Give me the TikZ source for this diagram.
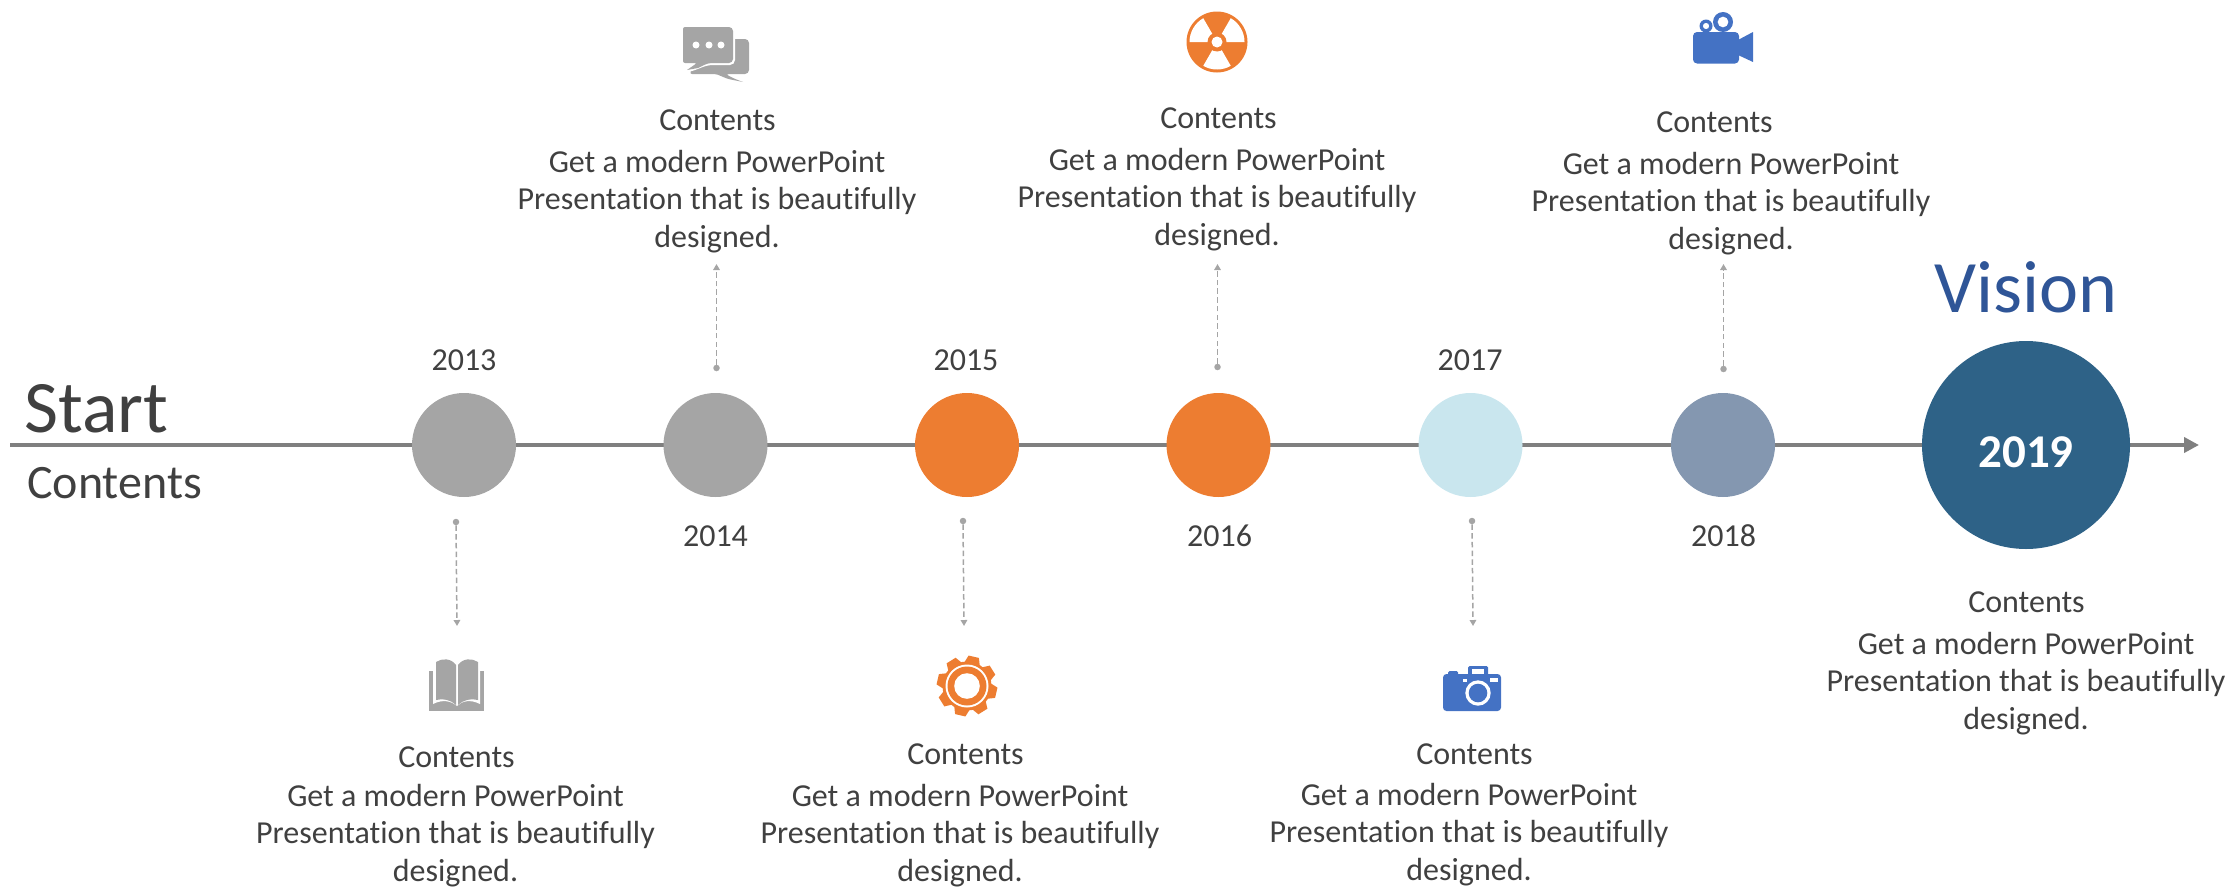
\documentclass[tikz,border=0pt]{standalone}
\usepackage{fontspec}
\setmainfont[Ligatures=NoCommon]{Carlito}
\usetikzlibrary{arrows.meta}
\definecolor{txt}{HTML}{404040}
\definecolor{gr}{HTML}{A5A5A5}
\definecolor{og}{HTML}{ED7D31}
\definecolor{lb}{HTML}{C9E6EE}
\definecolor{sl}{HTML}{8497B0}
\definecolor{vis}{HTML}{2E6287}
\definecolor{bl}{HTML}{4472C4}
\definecolor{vt}{HTML}{2F5597}
\definecolor{ax}{HTML}{7F7F7F}
\tikzset{
  x=1bp,y=-1bp,
  milestone/.style={circle,draw=none,inner sep=0pt,minimum size=104bp},
  lab/.style={text=txt,inner sep=0pt,font=\fontsize{32bp}{37.8bp}\selectfont},
  body/.style={lab,align=center},
  dot/.style={circle,fill=gr,inner sep=0pt,minimum size=6.5bp},
  conn/.style={draw=gr,line width=1.5bp,dash pattern=on 5.5bp off 3.2bp,-{Triangle[length=6bp,width=6.5bp,fill=gr]}},
}
\begin{document}
\begin{tikzpicture}
\useasboundingbox (0,0) rectangle (2229,887);
\coordinate (axs) at (10,445);
\coordinate (axe) at (2199,445);
\draw[ax,line width=4.5bp,-{Triangle[length=15bp,width=15bp,fill=ax]}] (axs) -- (axe);

\node[milestone,fill=gr] (m13) at (464,445) {};
\node[milestone,fill=gr] (m14) at (715.5,445) {};
\node[milestone,fill=og] (m15) at (967,445) {};
\node[milestone,fill=og] (m16) at (1218.5,445) {};
\node[milestone,fill=lb] (m17) at (1470.5,445) {};
\node[milestone,fill=sl] (m18) at (1723,445) {};
\node[circle,fill=vis,inner sep=0pt,minimum size=208bp] (m19) at (2026,445) {};
\node[text=white,inner sep=0pt,font=\fontsize{47bp}{50bp}\selectfont\bfseries] (l19) at (2026,452) {2019};

\node[lab,anchor=west,font=\fontsize{74bp}{78bp}\selectfont] (start) at (24,409) {Start};
\node[lab,anchor=west,font=\fontsize{48bp}{50bp}\selectfont] (cont) at (27,483) {Contents};
\node[lab,text=vt,font=\fontsize{74bp}{78bp}\selectfont] (vision) at (2026,287) {Vision};

\node[lab] (y13) at (464,360) {2013};
\node[lab] (y15) at (966,360) {2015};
\node[lab] (y17) at (1470,360) {2017};
\node[lab] (y14) at (715.5,536) {2014};
\node[lab] (y16) at (1219.5,536) {2016};
\node[lab] (y18) at (1723.5,536) {2018};

% text groups
\node[lab] (t14) at (717.5,120) {Contents};
\node[body] (b14) at (717,201.5) {Get a modern PowerPoint\\Presentation that is beautifully\\designed.};
\node[lab] (t16) at (1218.5,118) {Contents};
\node[body] (b16) at (1217,199.5) {Get a modern PowerPoint\\Presentation that is beautifully\\designed.};
\node[lab] (t18) at (1714.5,122) {Contents};
\node[body] (b18) at (1731,203.5) {Get a modern PowerPoint\\Presentation that is beautifully\\designed.};
\node[lab] (t13) at (456.5,757) {Contents};
\node[body] (b13) at (455.5,835.5) {Get a modern PowerPoint\\Presentation that is beautifully\\designed.};
\node[lab] (t15) at (965.5,754) {Contents};
\node[body] (b15) at (960,835.5) {Get a modern PowerPoint\\Presentation that is beautifully\\designed.};
\node[lab] (t17) at (1474.5,754) {Contents};
\node[body] (b17) at (1469,834.5) {Get a modern PowerPoint\\Presentation that is beautifully\\designed.};
\node[lab] (t19) at (2026.5,602) {Contents};
\node[body] (b19) at (2026,683.5) {Get a modern PowerPoint\\Presentation that is beautifully\\designed.};

% connectors
\node[dot] (d14) at (716.5,368) {}; \coordinate (e14) at (716.5,264);
\node[dot] (d16) at (1217.5,367) {}; \coordinate (e16) at (1217.5,264);
\node[dot] (d18) at (1723.5,369) {}; \coordinate (e18) at (1723.5,264);
\node[dot] (d13) at (456,522) {}; \coordinate (e13) at (457,626);
\node[dot] (d15) at (963,521) {}; \coordinate (e15) at (964,626);
\node[dot] (d17) at (1472,521) {}; \coordinate (e17) at (1473,626);
\foreach \k in {13,14,15,16,17,18}{\path[conn] (d\k) -- (e\k);}

% chat icon
\begin{scope}
\fill[gr,rounded corners=4bp] (700,39) -- (749,39) -- (749,74) -- (725,74) -- (735,79) [sharp corners] -- (743,82) [rounded corners=2bp] -- (728,79) -- (716,74) -- (690,74) -- cycle;
\fill[white,rounded corners=5bp] (681,25) -- (735,25) -- (735,65) -- (708,65) -- (690,72) -- (670,72) -- (681,65) -- cycle;
\fill[gr,rounded corners=4bp] (683,27) -- (733,27) -- (733,63) -- (708,63) [sharp corners] -- (698,68) -- (687,70) [rounded corners=2bp] -- (697,63) -- (683,63) -- cycle;
\foreach \a in {696,709,721}{\fill[white] (\a,45) circle (3.5);}
\end{scope}

% radiation icon
\begin{scope}[shift={(1217,42)},yscale=-1]
\fill[og] (0,0) circle (30.5);
\foreach \a in {0,120,240}{\fill[white] (\a:0) -- (\a:27.5) arc (\a:\a+60:27.5) -- cycle;}
\fill[og] (0,0) circle (9.5);
\fill[white] (0,0) circle (5.5);
\end{scope}

% video icon
\begin{scope}
\fill[bl,rounded corners=4bp] (1693,32) rectangle (1739,63.5);
\fill[bl] (1738,40) -- (1753,32) -- (1753,62) -- (1738,55) -- cycle;
\fill[bl,even odd rule] (1723,22) circle (10) (1723,22) circle (5.5);
\fill[bl,even odd rule] (1706,26) circle (6.5) (1706,26) circle (3.2);
\end{scope}

% book icon
\begin{scope}
\fill[gr] (429,671) rectangle (484,711);
\fill[white] (433,668) -- (480,668) -- (480,704) .. controls (470,699) and (462,701) .. (457,706) .. controls (451,701) and (443,699) .. (433,704) -- cycle;
\fill[gr] (436,662) .. controls (442,658) and (451,658) .. (456,665) -- (456,705) .. controls (451,700) and (443,698) .. (436,700) -- cycle;
\fill[gr] (458,665) .. controls (463,658) and (472,658) .. (478,662) -- (478,700) .. controls (471,698) and (463,700) .. (458,705) -- cycle;
\end{scope}

% gear icon
\begin{scope}[shift={(967,686)}]
\fill[og] (0,0) circle (24.5);
\foreach \a in {-77,-32,13,58,103,148,193,238}{
  \fill[og] (\a-20:23.5) -- (\a-10:30.5) -- (\a+10:30.5) -- (\a+20:23.5) -- cycle;}
\fill[white] (0,0) circle (21.5);
\fill[og] (0,0) circle (19.5);
\fill[white] (0,0) circle (12.8);
\end{scope}

% camera icon
\begin{scope}
\fill[bl,rounded corners=3.5bp] (1443,674) rectangle (1501,711);
\fill[bl,rounded corners=1.5bp] (1448,671) rectangle (1458,678);
\fill[bl,rounded corners=1.5bp] (1468,666) rectangle (1488,678);
\fill[white] (1472,668.5) rectangle (1484,673.5);
\fill[white] (1490,678) rectangle (1497.5,682);
\fill[white] (1463,679) rectangle (1467,681.5);
\fill[white] (1478,693) circle (12.7);
\fill[bl] (1478,693) circle (9.3);
\end{scope}
\end{tikzpicture}
\end{document}
